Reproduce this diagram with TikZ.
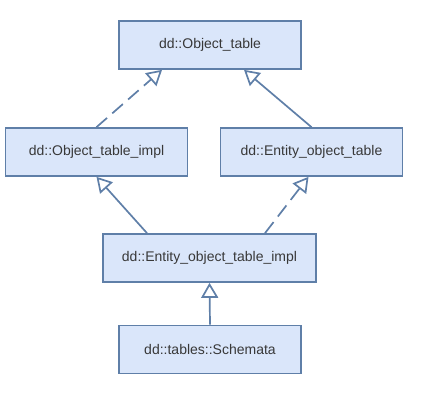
\documentclass[tikz,border=0pt]{standalone}
\usepackage{fontspec}
\setmainfont{Liberation Sans}
\usepackage{tikz}
\usetikzlibrary{arrows.meta,positioning}
\definecolor{boxfill}{HTML}{DAE6FA}
\definecolor{boxline}{HTML}{5F7FA8}
\definecolor{textgray}{HTML}{383838}
\tikzset{
  cls/.style={draw=boxline,fill=boxfill,line width=1.7pt,align=center,
    minimum width=182pt,minimum height=48pt,inner sep=3pt,
    text=textgray,font=\fontsize{14}{16}\selectfont},
  inherit/.style={-{Triangle[open,fill=white,length=15pt,width=17pt]},
    draw=boxline,line width=1.7pt},
  realize/.style={inherit,dash pattern=on 14pt off 7pt}
}
\begin{document}
\begin{tikzpicture}[x=1pt,y=-1pt]
  % Canvas
  \useasboundingbox (0,0) rectangle (429,393);
  % Classes
  \node[cls] (objtab) at (210,45) {dd::Object\_table};
  \node[cls] (objimpl) at (96.5,152) {dd::Object\_table\_impl};
  \node[cls] (enttab) at (311.5,152) {dd::Entity\_object\_table};
  \node[cls,minimum width=213pt] (entimpl) at (209.5,258) {dd::Entity\_object\_table\_impl};
  \node[cls] (schemata) at (210,349.5) {dd::tables::Schemata};
  % Generalisations
  \draw[realize] (objimpl.north) -- ([xshift=-48pt]objtab.south);
  \draw[inherit] (enttab.north) -- ([xshift=34pt]objtab.south);
  \draw[inherit] ([xshift=-62.5pt]entimpl.north) -- (objimpl.south);
  \draw[realize] ([xshift=55.5pt]entimpl.north) -- ([xshift=-3pt]enttab.south);
  \draw[inherit] (schemata.north) -- (entimpl.south);
\end{tikzpicture}
\end{document}
